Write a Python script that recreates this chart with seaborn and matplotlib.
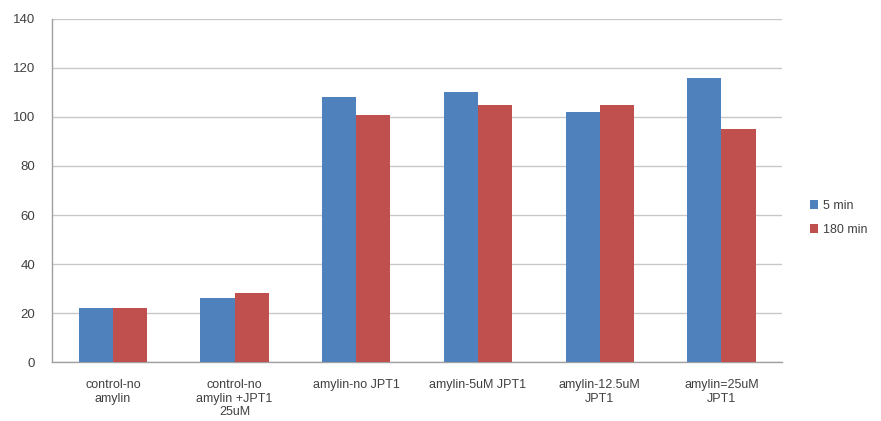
import matplotlib
matplotlib.use("Agg")
import matplotlib.pyplot as plt
import seaborn as sns
import pandas as pd
import numpy as np

categories = [
    "control-no\namylin",
    "control-no\namylin +JPT1\n25uM",
    "amylin-no JPT1",
    "amylin-5uM JPT1",
    "amylin-12.5uM\nJPT1",
    "amylin=25uM\nJPT1",
]
series_names = ["5 min", "180 min"]
values_5min = [22, 26, 108, 110, 102, 116]
values_180min = [22, 28, 101, 105, 105, 95]
y_ticks = [0, 20, 40, 60, 80, 100, 120, 140]

df = pd.DataFrame({
    "category": categories * 2,
    "series": [series_names[0]] * len(categories) + [series_names[1]] * len(categories),
    "value": values_5min + values_180min,
})

sns.set_theme(style="white")
plt.rcParams["font.family"] = ["Liberation Sans", "DejaVu Sans"]

fig = plt.figure(figsize=(8.81, 4.21), dpi=100)
ax = fig.add_axes([0.059, 0.140, 0.829, 0.815])

sns.barplot(data=df, x="category", y="value", hue="series",
            palette=["#4F81BD", "#C0504D"], width=0.56, saturation=1,
            errorbar=None, ax=ax, linewidth=0, zorder=3)

ax.set_ylim(0, 140)
ax.set_xlim(-0.5, len(categories) - 0.5)
ax.set_yticks(y_ticks)
ax.set_yticklabels([str(t) for t in y_ticks], fontsize=9.5, color="#404040")
ax.yaxis.grid(True, color="#c8c8c8", linewidth=1, zorder=0)
ax.set_axisbelow(True)
ax.set_xlabel("")
ax.set_ylabel("")

ax.tick_params(axis="x", which="major", length=0, labelsize=9,
               labelcolor="#404040", pad=12)
ax.set_xticks(np.arange(-0.5, len(categories)), minor=True)
ax.tick_params(axis="x", which="minor", length=4, color="#a0a0a0",
               direction="out", width=1)
ax.tick_params(axis="y", length=4, color="#a0a0a0", direction="out", pad=8)

for side in ["top", "right"]:
    ax.spines[side].set_visible(False)
for side in ["left", "bottom"]:
    ax.spines[side].set_color("#a0a0a0")
    ax.spines[side].set_linewidth(1)

leg = ax.legend(title=None, loc="center left", bbox_to_anchor=(1.022, 0.42),
                frameon=False, fontsize=9, handlelength=0.7, handleheight=0.7,
                handletextpad=0.4, labelspacing=1.0)
for t in leg.get_texts():
    t.set_color("#404040")

fig.savefig("out.png", dpi=100)
